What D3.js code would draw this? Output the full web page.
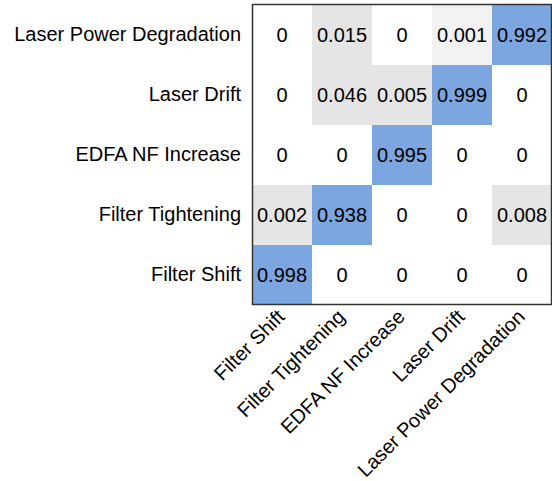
<!DOCTYPE html>
<html>
<head>
<meta charset="utf-8">
<script src="https://cdn.jsdelivr.net/npm/d3@7"></script>
<style>
  html, body { margin: 0; padding: 0; background: #fff; }
  svg { display: block; }
  text { font-family: "Liberation Sans", Arial, sans-serif; fill: #000; }
</style>
</head>
<body>
<svg id="chart" width="552" height="481"></svg>
<script>
// Row labels (top to bottom) and column labels (left to right)
const rowLabels = ["Laser Power Degradation", "Laser Drift", "EDFA NF Increase", "Filter Tightening", "Filter Shift"];
const colLabels = ["Filter Shift", "Filter Tightening", "EDFA NF Increase", "Laser Drift", "Laser Power Degradation"];

// Values per row
const rowLaserPowerDegradation = [0, 0.015, 0, 0.001, 0.992];
const rowLaserDrift            = [0, 0.046, 0.005, 0.999, 0];
const rowEDFANFIncrease        = [0, 0, 0.995, 0, 0];
const rowFilterTightening      = [0.002, 0.938, 0, 0, 0.008];
const rowFilterShift           = [0.998, 0, 0, 0, 0];
const matrix = [rowLaserPowerDegradation, rowLaserDrift, rowEDFANFIncrease, rowFilterTightening, rowFilterShift];

const svg = d3.select("#chart");
const margin = {left: 252, top: 5, right: 0, bottom: 176};
const W = 300, H = 300;

const x = d3.scaleBand().domain(colLabels).range([margin.left, margin.left + W]);
const y = d3.scaleBand().domain(rowLabels).range([margin.top, margin.top + H]);
const color = d3.scaleThreshold()
  .domain([0.0005, 0.0015, 0.5])
  .range(["#ffffff", "#f2f2f2", "#e5e5e5", "#7ba6e0"]);

const cells = [];
matrix.forEach((row, i) => row.forEach((v, j) => cells.push({r: rowLabels[i], c: colLabels[j], v})));

svg.append("g").selectAll("rect").data(cells).join("rect")
  .attr("x", d => x(d.c)).attr("y", d => y(d.r))
  .attr("width", x.bandwidth()).attr("height", y.bandwidth())
  .attr("fill", d => color(d.v));

svg.append("g").selectAll("text").data(cells).join("text")
  .attr("x", d => x(d.c) + x.bandwidth() / 2)
  .attr("y", d => y(d.r) + y.bandwidth() / 2)
  .attr("text-anchor", "middle")
  .attr("dominant-baseline", "central")
  .style("font-size", "20px")
  .text(d => d.v === 0 ? "0" : String(d.v));

// Border
svg.append("rect")
  .attr("x", margin.left + 0.5).attr("y", margin.top - 0.5)
  .attr("width", W - 1).attr("height", H)
  .attr("fill", "none").attr("stroke", "#333").attr("stroke-width", 1.5);

// Y axis labels
const yAxis = svg.append("g").attr("transform", `translate(${margin.left - 11},0)`)
  .call(d3.axisLeft(y).tickSize(0).tickPadding(0));
yAxis.select(".domain").remove();
yAxis.selectAll("text").style("font-size", "20px").attr("fill", "#000")
  .attr("font-family", "Liberation Sans, Arial, sans-serif");

// X axis labels (rotated)
const xAxis = svg.append("g").attr("transform", `translate(0,${margin.top + H})`)
  .call(d3.axisBottom(x).tickSize(0).tickPadding(0));
xAxis.select(".domain").remove();
xAxis.selectAll("text")
  .style("font-size", "20px").attr("fill", "#000")
  .attr("font-family", "Liberation Sans, Arial, sans-serif")
  .attr("text-anchor", "end")
  .attr("dy", null)
  .attr("transform", "translate(4,13) rotate(-45)");
</script>
</body>
</html>
